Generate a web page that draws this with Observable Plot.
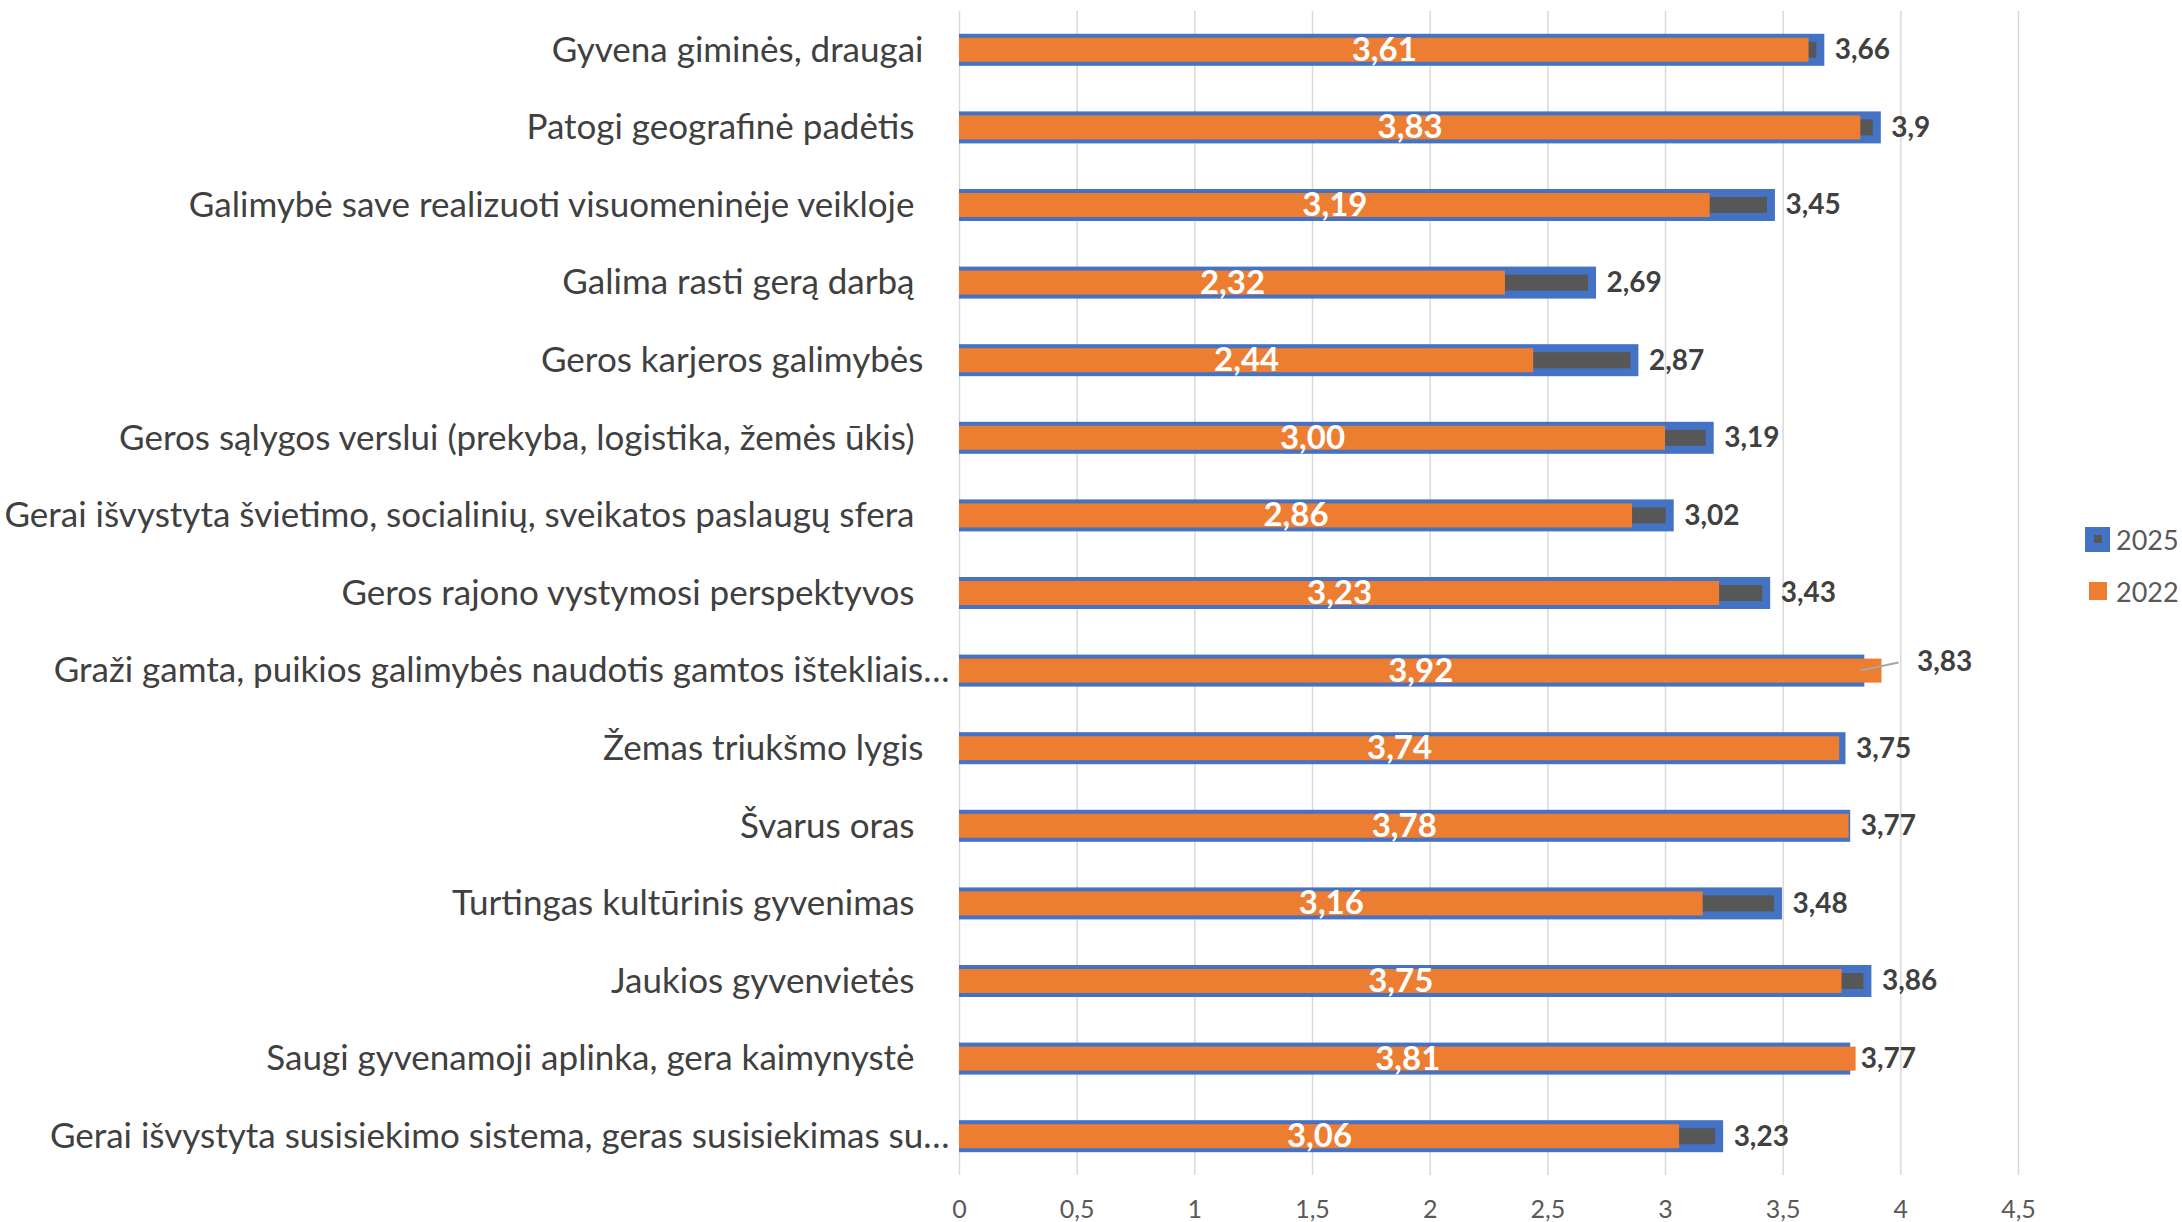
<!DOCTYPE html>
<html>
<head>
<meta charset="utf-8">
<script src="https://cdn.jsdelivr.net/npm/d3@7"></script>
<script src="https://cdn.jsdelivr.net/npm/@observablehq/plot@0.6"></script>
<style>
  body { margin: 0; background: #fff; font-family: Lato, sans-serif; }
  #wrap { position: relative; width: 2182px; height: 1222px; overflow: hidden; }
  #legend { position: absolute; left: 2085px; top: 522px; font-size: 27px; color: #595959; font-family: Lato, sans-serif; }
  .item { display: flex; align-items: center; height: 34px; margin-bottom: 18px; }
  .sw { display: inline-block; box-sizing: border-box; margin-right: 6px; position: relative; }
  .sw.s2025 { width: 25px; height: 25px; background: #4472C4; }
  .sw.s2025::after { content: ""; position: absolute; left: 8.5px; top: 8.5px; width: 8px; height: 8px; background: #575757; }
  .sw.s2022 { width: 18px; height: 18px; background: #ED7D31; margin-left: 4px; margin-right: 9px; }
</style>
</head>
<body>
<div id="wrap"></div>
<script>
// ---- data ----
const categories = [
  "Gyvena giminės, draugai",
  "Patogi geografinė padėtis",
  "Galimybė save realizuoti visuomeninėje veikloje",
  "Galima rasti gerą darbą",
  "Geros karjeros galimybės",
  "Geros sąlygos verslui (prekyba, logistika, žemės ūkis)",
  "Gerai išvystyta švietimo, socialinių, sveikatos paslaugų sfera",
  "Geros rajono vystymosi perspektyvos",
  "Graži gamta, puikios galimybės naudotis gamtos ištekliais…",
  "Žemas triukšmo lygis",
  "Švarus oras",
  "Turtingas kultūrinis gyvenimas",
  "Jaukios gyvenvietės",
  "Saugi gyvenamoji aplinka, gera kaimynystė",
  "Gerai išvystyta susisiekimo sistema, geras susisiekimas su…"
];
const values2022 = [3.61, 3.83, 3.19, 2.32, 2.44, 3.00, 2.86, 3.23, 3.92, 3.74, 3.78, 3.16, 3.75, 3.81, 3.06];
const values2025 = [3.66, 3.90, 3.45, 2.69, 2.87, 3.19, 3.02, 3.43, 3.83, 3.75, 3.77, 3.48, 3.86, 3.77, 3.23];
const seriesNames = ["2025", "2022"];
const xTicks = [0, 0.5, 1, 1.5, 2, 2.5, 3, 3.5, 4, 4.5];

// label groups (Excel alignment quirks)
const labelsWide = ["Gyvena giminės, draugai", "Geros karjeros galimybės", "Žemas triukšmo lygis"];
const labelsTruncated = [
  "Graži gamta, puikios galimybės naudotis gamtos ištekliais…",
  "Gerai išvystyta susisiekimo sistema, geras susisiekimas su…"
];
const labelsNormal = categories.filter(c => !labelsWide.includes(c) && !labelsTruncated.includes(c));
const calloutCategory = "Graži gamta, puikios galimybės naudotis gamtos ištekliais…";

const data = categories.map((c, i) => ({category: c, v2022: values2022[i], v2025: values2025[i]}));

const fmtComma = v => String(+v.toFixed(2)).replace(".", ",");
const fmt2 = v => v.toFixed(2).replace(".", ",");

// ---- style ----
const BLUE = "#4472C4", ORANGE = "#ED7D31", DARK = "#575757";
const STEP = (1222 - 11 - 47) / categories.length;
const INSET = (STEP - 24) / 2;

const yAxisStyle = {tickSize: 0, fontSize: 35, fill: "#404040", label: null};

const leader = (index, scales) => {
  const d = data.find(r => r.category === calloutCategory);
  const bw = scales.y.bandwidth ? scales.y.bandwidth() : STEP;
  const yc = scales.y(d.category) + bw / 2;
  const line = document.createElementNS("http://www.w3.org/2000/svg", "line");
  line.setAttribute("x1", scales.x(d.v2025));
  line.setAttribute("y1", yc);
  line.setAttribute("x2", scales.x(d.v2022) + 17);
  line.setAttribute("y2", yc - 8);
  line.setAttribute("stroke", "#A6A6A6");
  line.setAttribute("stroke-width", 2);
  return line;
};

const chart = Plot.plot({
  width: 2182,
  height: 1222,
  marginLeft: 959,
  marginRight: 164,
  marginTop: 11,
  marginBottom: 47,
  style: {fontFamily: "Lato, sans-serif", background: "white", overflow: "visible"},
  x: {domain: [0, 4.5], label: null},
  y: {domain: categories, padding: 0, round: false, label: null},
  marks: [
    Plot.gridX(xTicks, {stroke: "#D9D9D9", strokeOpacity: 1, strokeWidth: 1.5}),
    Plot.axisX(xTicks, {tickSize: 0, tickPadding: 25, fontSize: 25, fill: "#595959", tickFormat: d => String(d).replace(".", ","), label: null}),
    Plot.axisY(labelsNormal, {...yAxisStyle, tickPadding: 45}),
    Plot.axisY(labelsWide, {...yAxisStyle, tickPadding: 36}),
    Plot.axisY(labelsTruncated, {...yAxisStyle, tickPadding: 10}),
    Plot.barX(data, {y: "category", x: "v2025", fill: DARK, stroke: BLUE, strokeWidth: 8, insetTop: INSET, insetBottom: INSET, insetLeft: 4}),
    Plot.barX(data, {y: "category", x: "v2022", fill: ORANGE, insetTop: INSET, insetBottom: INSET}),
    leader,
    Plot.text(data, {y: "category", x: d => d.v2022 / 2, text: d => fmt2(d.v2022), fill: "white", fontWeight: "bold", fontSize: 33}),
    Plot.text(data.filter(d => d.category !== calloutCategory), {y: "category", x: "v2025", text: d => fmtComma(d.v2025), textAnchor: "start", dx: 14, fill: "#404040", fontWeight: "bold", fontSize: 28}),
    Plot.text(data.filter(d => d.category === calloutCategory), {y: "category", x: "v2022", text: d => fmtComma(d.v2025), textAnchor: "start", dx: 35, dy: -9, fill: "#404040", fontWeight: "bold", fontSize: 28})
  ]
});

const wrap = document.getElementById("wrap");
wrap.appendChild(chart);

const legend = document.createElement("div");
legend.id = "legend";
seriesNames.forEach(name => {
  const item = document.createElement("div");
  item.className = "item";
  const sw = document.createElement("span");
  sw.className = "sw s" + name;
  item.appendChild(sw);
  item.appendChild(document.createTextNode(name));
  legend.appendChild(item);
});
wrap.appendChild(legend);
</script>
</body>
</html>
